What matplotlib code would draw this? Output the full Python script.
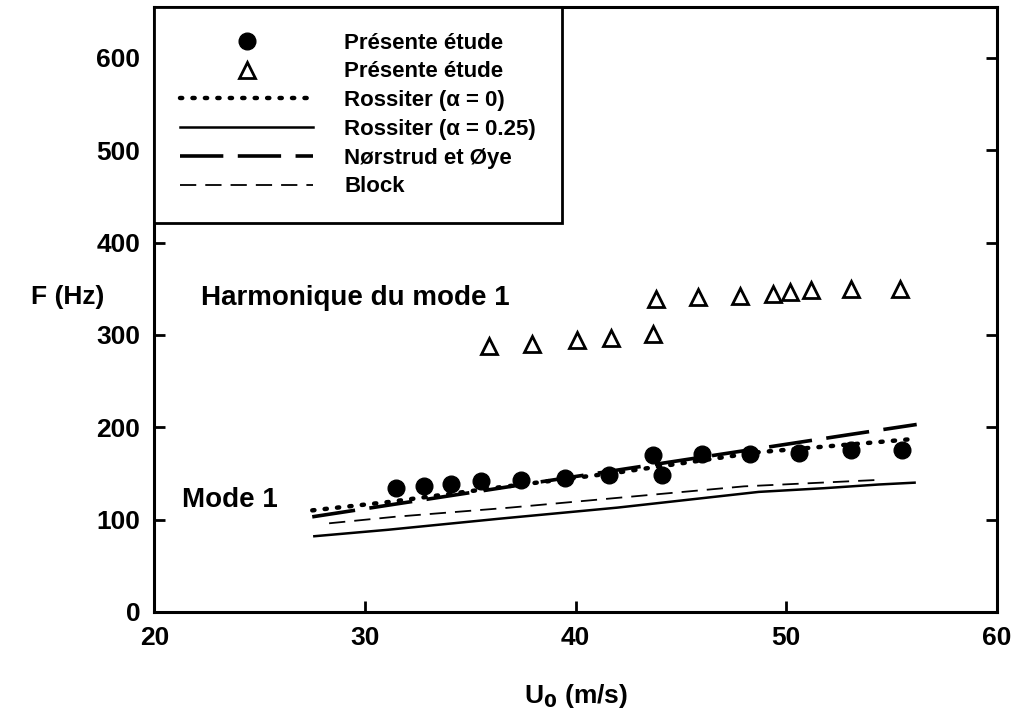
import matplotlib.pyplot as plt
import numpy as np

plt.rcParams['font.family'] = ['Liberation Sans', 'DejaVu Sans']
plt.rcParams['font.weight'] = 'bold'

# Mode 1 measurements (filled circles)
u_mode1 = [31.5, 32.8, 34.1, 35.5, 37.4, 39.5, 41.6, 43.7, 44.1, 46.0, 48.3, 50.6, 53.1, 55.5]
f_mode1 = [134, 136, 139, 142, 143, 145, 148, 170, 148, 171, 171, 172, 175, 175]

# Harmonic of mode 1 (open triangles)
u_harm = [35.9, 37.95, 40.05, 41.7, 43.7, 43.8, 45.8, 47.8, 49.4, 50.2, 51.2, 53.1, 55.4]
f_harm = [288, 290, 294, 297, 301, 339, 341, 342, 344, 346, 349, 350, 350]

# Model curves
u_ross0 = [27.5, 31.1, 36.4, 42.0, 48.7, 51.8, 54.4, 55.9]
f_ross0 = [110, 119, 135, 151, 173, 179, 184, 187]
u_ross25 = [27.6, 31.1, 36.4, 42.0, 48.7, 51.8, 54.4, 56.1]
f_ross25 = [82, 89, 101, 113, 130, 134, 138, 140]
u_norstrud = [27.5, 42.1, 53.0, 56.2]
f_norstrud = [103, 154, 192, 203]
u_block = [28.3, 31.4, 36.9, 42.7, 48.0, 54.4]
f_block = [96, 103, 113, 125, 136, 143]

fig = plt.figure(figsize=(10.15, 7.13), dpi=100)
ax = fig.add_axes([0.152, 0.1417, 0.830, 0.8485])

l1, = ax.plot(u_mode1, f_mode1, 'o', color='black', markersize=12, linestyle='none')
l2, = ax.plot(u_harm, f_harm, '^', markerfacecolor='white', markeredgecolor='black',
              markeredgewidth=2, markersize=11, linestyle='none')
l3, = ax.plot(u_ross0, f_ross0, color='black', linewidth=3.2, linestyle=(0, (0.5, 2.3)),
              dash_capstyle='round')
l4, = ax.plot(u_ross25, f_ross25, color='black', linewidth=1.8)
l5, = ax.plot(u_norstrud, f_norstrud, color='black', linewidth=2.6, linestyle=(0, (12, 4)))
l6, = ax.plot(u_block, f_block, color='black', linewidth=1.3, linestyle=(0, (9, 5)))

ax.text(22.2, 340, 'Harmonique du mode 1', fontsize=20, fontweight='bold', va='center')
ax.text(21.3, 121, 'Mode 1', fontsize=20, fontweight='bold', va='center')

ax.set_xlim(20, 60)
ax.set_ylim(0, 655)
ax.set_xticks([20, 30, 40, 50, 60])
ax.set_yticks([0, 100, 200, 300, 400, 500, 600])
ax.tick_params(direction='in', length=8, width=2, labelsize=19, pad=10,
               right=True, top=False)
for lab in ax.get_xticklabels() + ax.get_yticklabels():
    lab.set_fontweight('bold')
for sp in ax.spines.values():
    sp.set_linewidth(2.2)

ax.set_xlabel('U$_\\mathbf{0}$ (m/s)', fontsize=19, fontweight='bold', labelpad=23)
ax.set_ylabel('F (Hz)', fontsize=19, fontweight='bold', rotation=0)
ax.yaxis.set_label_coords(-0.103, 0.5)

leg = ax.legend([l1, l2, l3, l4, l5, l6],
                ['Présente étude', 'Présente étude', 'Rossiter (α = 0)',
                 'Rossiter (α = 0.25)', 'Nørstrud et Øye', 'Block'],
                loc='upper left', bbox_to_anchor=(0, 1), borderaxespad=0,
                fancybox=False, edgecolor='black', framealpha=1,
                prop={'size': 16, 'weight': 'bold'}, handlelength=6.0,
                handletextpad=1.4, labelspacing=0.35, borderpad=1.15)
leg.get_frame().set_linewidth(2)

fig.savefig('out.png', dpi=100)
